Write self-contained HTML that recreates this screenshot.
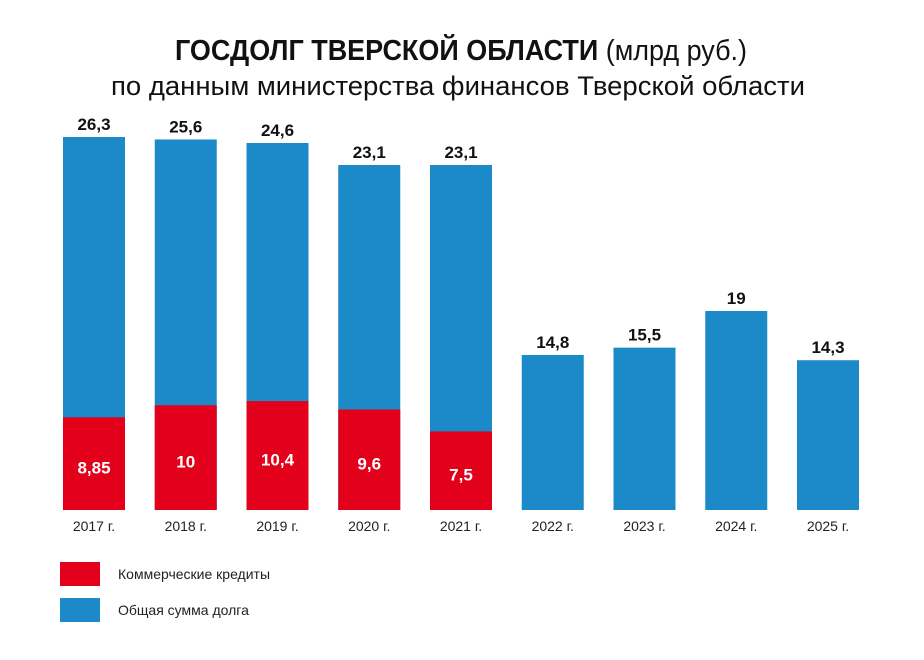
<!DOCTYPE html>
<html><head><meta charset="utf-8"><style>
html,body{margin:0;padding:0;background:#fff;}
svg{display:block;font-family:"Liberation Sans",sans-serif;}
</style></head><body>
<svg id="chart" width="924" height="660" viewBox="0 0 924 660">
<text x="461" y="60" text-anchor="middle" font-size="29" fill="#111" textLength="572" lengthAdjust="spacingAndGlyphs"><tspan font-weight="bold">ГОСДОЛГ ТВЕРСКОЙ ОБЛАСТИ</tspan> (млрд руб.)</text>
<text x="458" y="95" text-anchor="middle" font-size="27" fill="#111" textLength="694" lengthAdjust="spacingAndGlyphs">по данным министерства финансов Тверской области</text>
<g id="bars"></g>
<rect x="60" y="562" width="40" height="24" fill="#e2001a"/>
<text x="118" y="579" font-size="14" fill="#222">Коммерческие кредиты</text>
<rect x="60" y="598" width="40" height="24" fill="#1c8ac8"/>
<text x="118" y="615" font-size="14" fill="#222">Общая сумма долга</text>
</svg>
<script>
const categories = ["2017 г.","2018 г.","2019 г.","2020 г.","2021 г.","2022 г.","2023 г.","2024 г.","2025 г."];
const totalDebt = [26.3,25.6,24.6,23.1,23.1,14.8,15.5,19,14.3];
const commercialCredits = [8.85,10,10.4,9.6,7.5,null,null,null,null];
const totalLabels = ["26,3","25,6","24,6","23,1","23,1","14,8","15,5","19","14,3"];
const commercialLabels = ["8,85","10","10,4","9,6","7,5","","","",""];

const NS="http://www.w3.org/2000/svg";
const baseY=510, x0=63, step=91.75, bw=62;
// piecewise scale approximating the (non-linear) reference drawing
const dom=[0,19,23.1,24.6,26.3,40], rng=[0,199,345,367,373,500];
function yScale(v){
  for(let i=1;i<dom.length;i++){
    if(v<=dom[i]){const t=(v-dom[i-1])/(dom[i]-dom[i-1]);return baseY-(rng[i-1]+t*(rng[i]-rng[i-1]));}
  }
  return baseY-rng[rng.length-1];
}
function xScale(i){return x0+i*step;}
const g=document.getElementById('bars');
function mk(tag,attrs,txt){const e=document.createElementNS(NS,tag);for(const k in attrs)e.setAttribute(k,attrs[k]);if(txt!=null)e.textContent=txt;g.appendChild(e);return e;}
categories.forEach((c,i)=>{
  const x=xScale(i), yt=yScale(totalDebt[i]);
  const b=mk('rect',{x:x,y:yt,width:bw,height:baseY-yt,fill:'#1c8ac8'});
  
  
  const t=mk('text',{x:x+bw/2,y:yt-7,'text-anchor':'middle','font-size':17,'font-weight':'bold',fill:'#111'},totalLabels[i]);
  
  
  if(commercialCredits[i]!=null){
    const yc=yScale(commercialCredits[i]);
    const r=mk('rect',{x:x,y:yc,width:bw,height:baseY-yc,fill:'#e2001a'});
    
    
    const ct=mk('text',{x:x+bw/2,y:(yc+baseY)/2+10,'text-anchor':'middle','font-size':17,'font-weight':'bold',fill:'#fff'},commercialLabels[i]);
    
    
  }
  const xl=mk('text',{x:x+bw/2,y:531,'text-anchor':'middle','font-size':14,fill:'#222'},c);
  
  
});
</script>
</body></html>
